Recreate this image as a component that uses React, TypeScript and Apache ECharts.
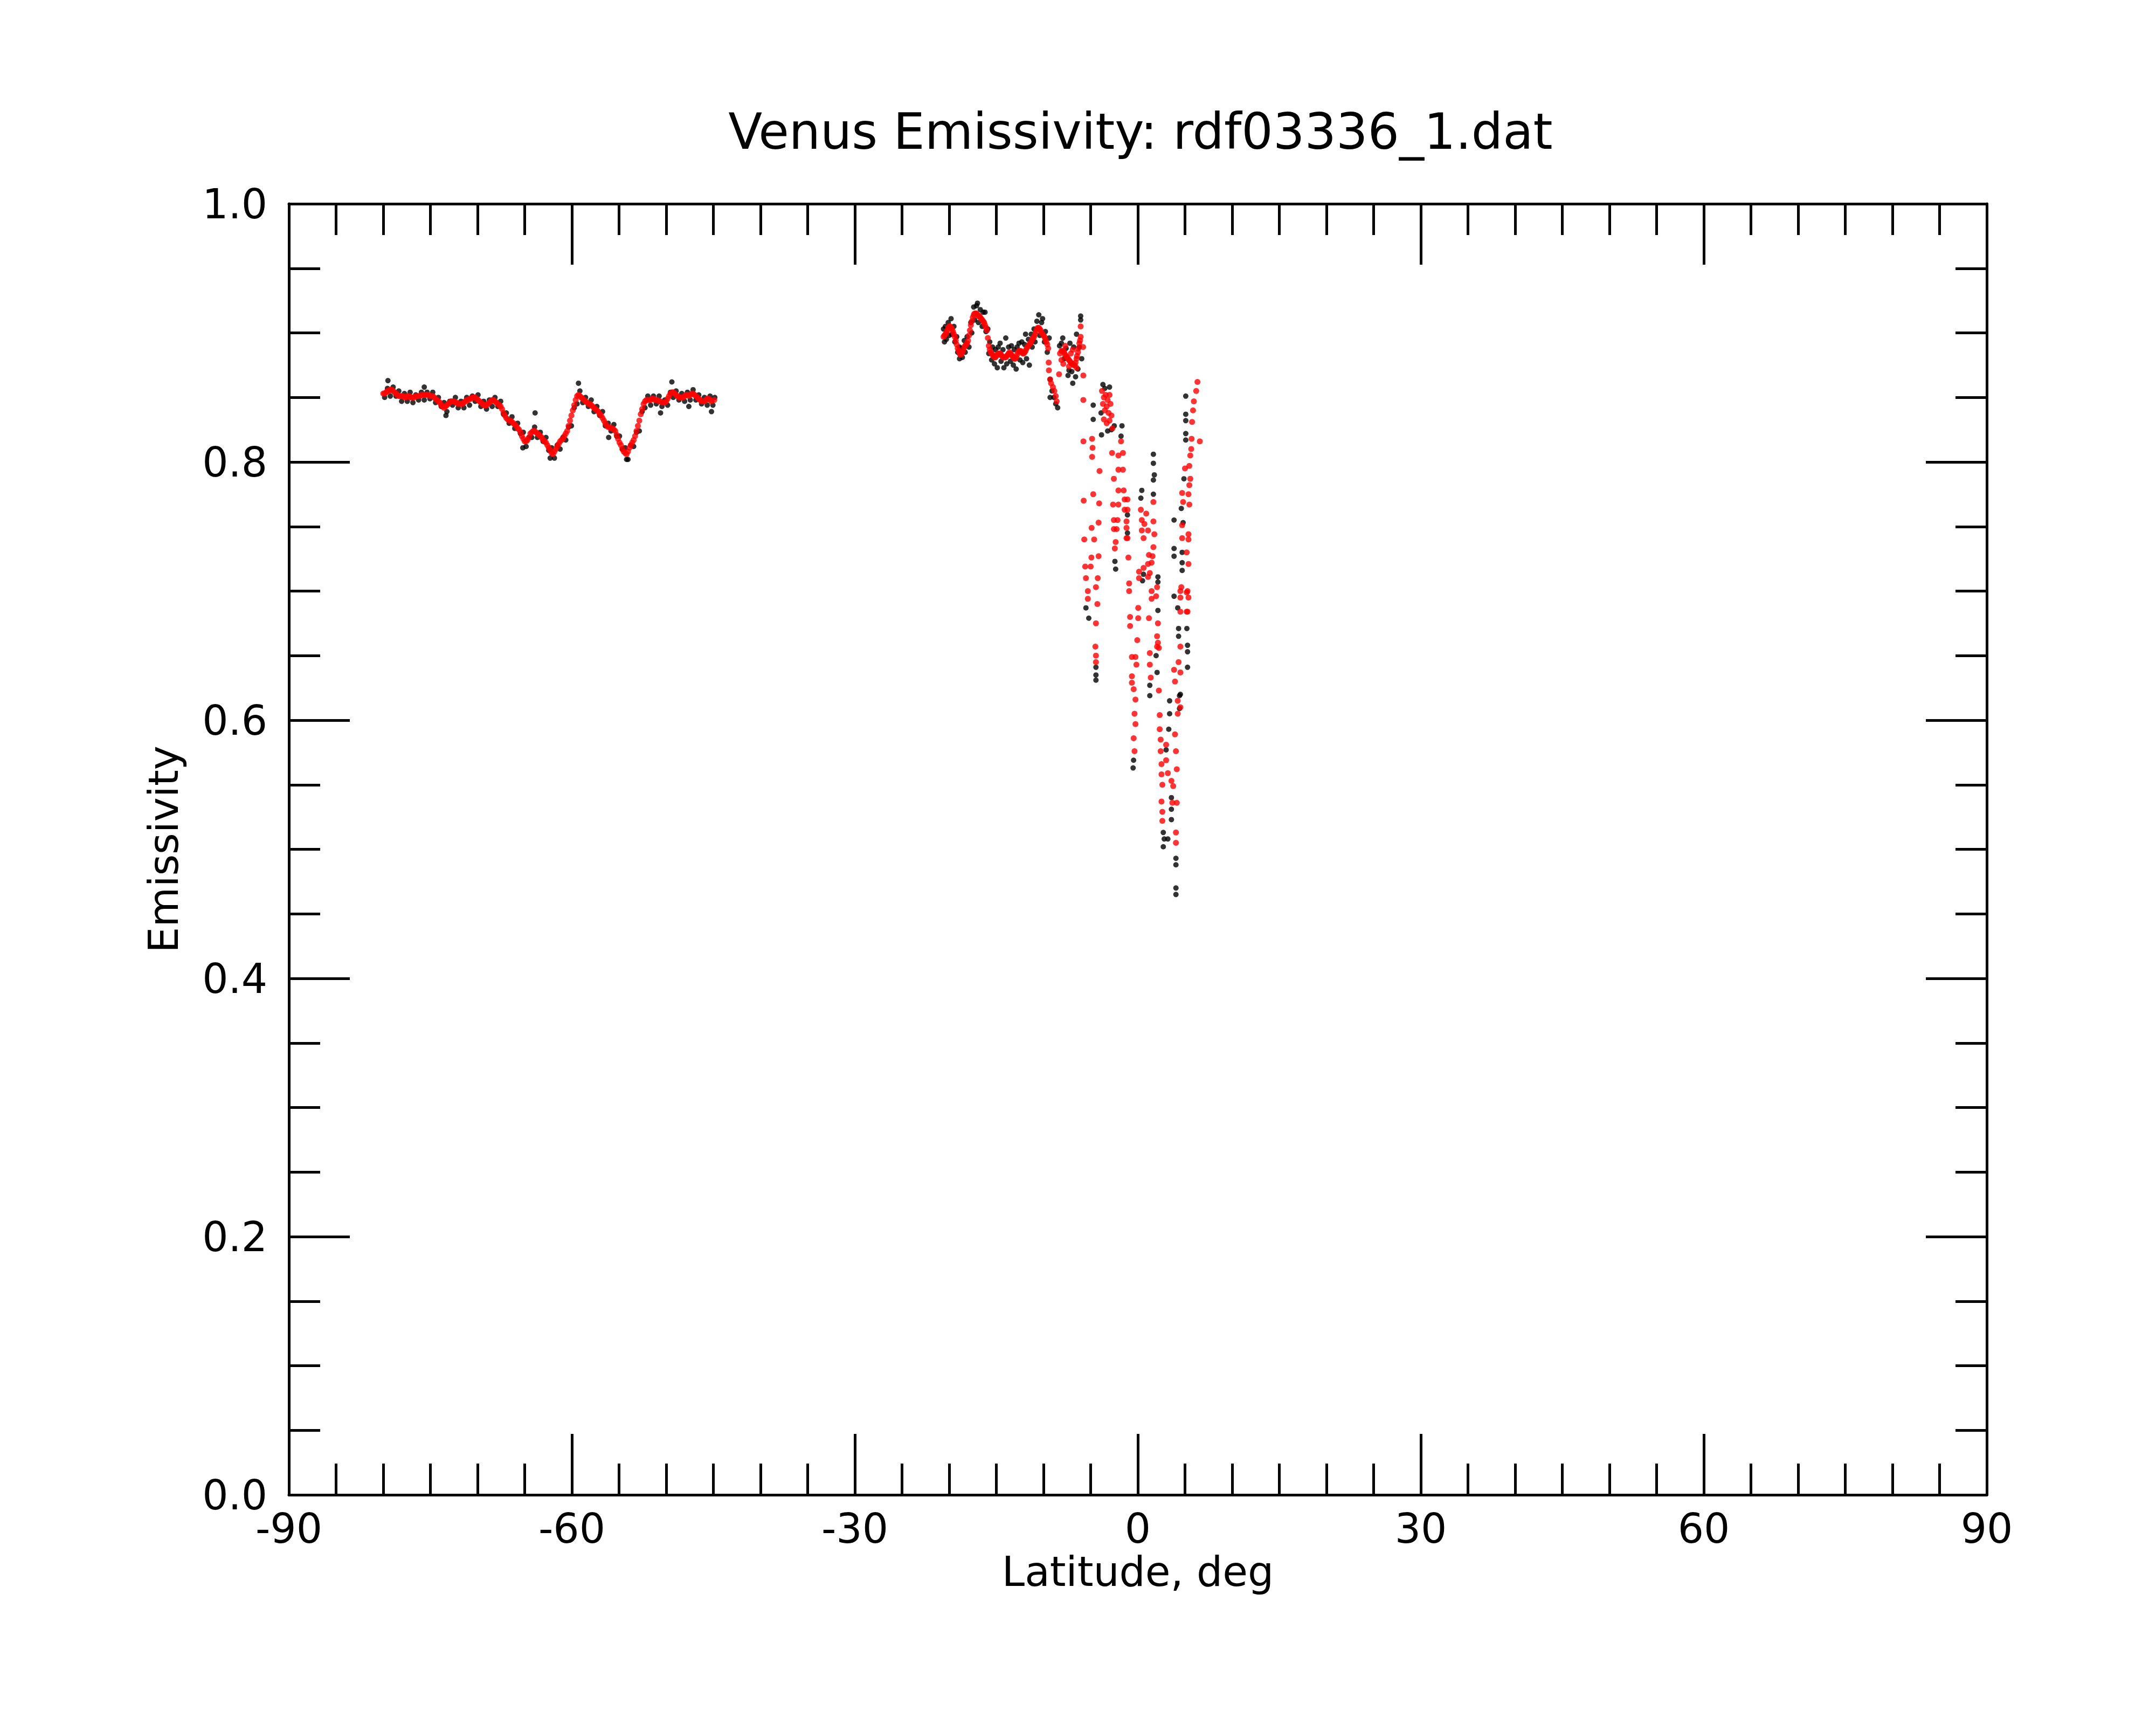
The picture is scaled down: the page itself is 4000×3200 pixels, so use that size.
import React, { useEffect, useRef } from "react";
import * as echarts from "echarts";

const chartTitle = "Venus Emissivity: rdf03336_1.dat";
const xAxisName = "Latitude, deg";
const yAxisName = "Emissivity";
const xRange = [-90, 90];
const yRange = [0, 1];

// Southern band (red = smoothed/corrected, black = raw)
const redSouth: [number, number][] = [
  [-80.0, 0.853], [-79.7, 0.854], [-79.4, 0.855], [-79.1, 0.856], [-78.8, 0.854], [-78.5, 0.852],
  [-78.2, 0.851], [-77.9, 0.851], [-77.6, 0.85], [-77.3, 0.851], [-77.0, 0.85], [-76.7, 0.85],
  [-76.4, 0.851], [-76.1, 0.851], [-75.8, 0.852], [-75.5, 0.852], [-75.2, 0.852], [-74.9, 0.851],
  [-74.6, 0.85], [-74.3, 0.848], [-74.0, 0.846], [-73.7, 0.843], [-73.4, 0.843], [-73.1, 0.845],
  [-72.8, 0.847], [-72.5, 0.847], [-72.2, 0.846], [-71.9, 0.845], [-71.6, 0.845], [-71.3, 0.847],
  [-71.0, 0.848], [-70.7, 0.849], [-70.4, 0.85], [-70.1, 0.849], [-69.8, 0.847], [-69.5, 0.845],
  [-69.2, 0.844], [-68.9, 0.845], [-68.6, 0.847], [-68.3, 0.848], [-68.0, 0.846], [-67.7, 0.844],
  [-67.4, 0.841], [-67.1, 0.836], [-66.8, 0.833], [-66.5, 0.832], [-66.2, 0.83], [-65.9, 0.828],
  [-65.6, 0.825], [-65.3, 0.82], [-65.0, 0.816], [-64.7, 0.817], [-64.4, 0.822], [-64.1, 0.824],
  [-63.8, 0.823], [-63.5, 0.821], [-63.2, 0.819], [-62.9, 0.816], [-62.6, 0.813], [-62.3, 0.809],
  [-62.0, 0.806], [-61.7, 0.81], [-61.4, 0.814], [-61.1, 0.817], [-60.8, 0.82], [-60.5, 0.824],
  [-60.2, 0.832], [-59.9, 0.84], [-59.6, 0.848], [-59.3, 0.852], [-59.0, 0.85], [-58.7, 0.848],
  [-58.4, 0.846], [-58.1, 0.845], [-57.8, 0.843], [-57.5, 0.841], [-57.2, 0.839], [-56.9, 0.836],
  [-56.6, 0.832], [-56.3, 0.828], [-56.0, 0.827], [-55.7, 0.826], [-55.4, 0.824], [-55.1, 0.818],
  [-54.8, 0.813], [-54.5, 0.808], [-54.2, 0.806], [-53.9, 0.811], [-53.6, 0.815], [-53.3, 0.82],
  [-53.0, 0.828], [-52.7, 0.837], [-52.4, 0.845], [-52.1, 0.848], [-51.8, 0.848], [-51.5, 0.849],
  [-51.2, 0.848], [-50.9, 0.848], [-50.6, 0.847], [-50.3, 0.846], [-50.0, 0.847], [-49.7, 0.851],
  [-49.4, 0.854], [-49.1, 0.853], [-48.8, 0.851], [-48.5, 0.85], [-48.2, 0.85], [-47.9, 0.852],
  [-47.6, 0.851], [-47.3, 0.853], [-47.0, 0.852], [-46.7, 0.85], [-46.4, 0.848], [-46.1, 0.847],
  [-45.8, 0.848], [-45.5, 0.849], [-45.2, 0.847], [-44.9, 0.848],
];

// further red samples read between the ones above
const redSouthBetween: [number, number][] = [
  [-79.85, 0.853], [-79.55, 0.855], [-79.25, 0.856], [-78.95, 0.855], [-78.65, 0.853], [-78.35, 0.851],
  [-78.05, 0.851], [-77.75, 0.85], [-77.45, 0.851], [-77.15, 0.85], [-76.85, 0.85], [-76.55, 0.851],
  [-76.25, 0.851], [-75.95, 0.852], [-75.65, 0.852], [-75.35, 0.852], [-75.05, 0.851], [-74.75, 0.851],
  [-74.45, 0.849], [-74.15, 0.847], [-73.85, 0.844], [-73.55, 0.842], [-73.25, 0.844], [-72.95, 0.846],
  [-72.65, 0.847], [-72.35, 0.846], [-72.05, 0.845], [-71.75, 0.845], [-71.45, 0.846], [-71.15, 0.848],
  [-70.85, 0.849], [-70.55, 0.85], [-70.25, 0.85], [-69.95, 0.848], [-69.65, 0.846], [-69.35, 0.844],
  [-69.05, 0.844], [-68.75, 0.846], [-68.45, 0.848], [-68.15, 0.847], [-67.85, 0.845], [-67.55, 0.843],
  [-67.25, 0.838], [-66.95, 0.834], [-66.65, 0.832], [-66.35, 0.831], [-66.05, 0.829], [-65.75, 0.826],
  [-65.45, 0.823], [-65.15, 0.818], [-64.85, 0.816], [-64.55, 0.819], [-64.25, 0.823], [-63.95, 0.824],
  [-63.65, 0.822], [-63.35, 0.82], [-63.05, 0.817], [-62.75, 0.815], [-62.45, 0.811], [-62.15, 0.807],
  [-61.85, 0.808], [-61.55, 0.812], [-61.25, 0.816], [-60.95, 0.818], [-60.65, 0.822], [-60.35, 0.828],
  [-60.05, 0.836], [-59.75, 0.844], [-59.45, 0.851], [-59.15, 0.851], [-58.85, 0.849], [-58.55, 0.847],
  [-58.25, 0.845], [-57.95, 0.844], [-57.65, 0.842], [-57.35, 0.84], [-57.05, 0.837], [-56.75, 0.834],
  [-56.45, 0.83], [-56.15, 0.827], [-55.85, 0.826], [-55.55, 0.825], [-55.25, 0.821], [-54.95, 0.815],
  [-54.65, 0.81], [-54.35, 0.807], [-54.05, 0.808], [-53.75, 0.813], [-53.45, 0.817], [-53.15, 0.824],
  [-52.85, 0.832], [-52.55, 0.841], [-52.25, 0.847], [-51.95, 0.848], [-51.65, 0.848], [-51.35, 0.849],
  [-51.05, 0.848], [-50.75, 0.847], [-50.45, 0.846], [-50.15, 0.846], [-49.85, 0.849], [-49.55, 0.853],
  [-49.25, 0.854], [-48.95, 0.852], [-48.65, 0.85], [-48.35, 0.85], [-48.05, 0.851], [-47.75, 0.852],
  [-47.45, 0.852], [-47.15, 0.853], [-46.85, 0.851], [-46.55, 0.849], [-46.25, 0.847], [-45.95, 0.847],
  [-45.65, 0.849], [-45.35, 0.848],
];

const blackSouth: [number, number][] = [
  [-79.85, 0.85], [-79.55, 0.857], [-79.25, 0.851], [-78.95, 0.858], [-78.65, 0.851], [-78.35, 0.855],
  [-78.05, 0.847], [-77.75, 0.853], [-77.45, 0.847], [-77.15, 0.854], [-76.85, 0.846], [-76.55, 0.852],
  [-76.25, 0.848], [-75.95, 0.854], [-75.65, 0.848], [-75.35, 0.854], [-75.05, 0.849], [-74.75, 0.854],
  [-74.45, 0.846], [-74.15, 0.85], [-73.85, 0.843], [-73.55, 0.846], [-73.25, 0.839], [-72.95, 0.847],
  [-72.65, 0.844], [-72.35, 0.85], [-72.05, 0.842], [-71.75, 0.847], [-71.45, 0.842], [-71.15, 0.85],
  [-70.85, 0.844], [-70.55, 0.851], [-70.25, 0.847], [-69.95, 0.852], [-69.65, 0.843], [-69.35, 0.847],
  [-69.05, 0.841], [-68.75, 0.848], [-68.45, 0.843], [-68.15, 0.85], [-67.85, 0.843], [-67.55, 0.847],
  [-67.25, 0.837], [-66.95, 0.838], [-66.65, 0.83], [-66.35, 0.835], [-66.05, 0.826], [-65.75, 0.83],
  [-65.45, 0.822], [-65.15, 0.823], [-64.85, 0.812], [-64.55, 0.819], [-64.25, 0.819], [-63.95, 0.827],
  [-63.65, 0.819], [-63.35, 0.823], [-63.05, 0.816], [-62.75, 0.819], [-62.45, 0.809], [-62.15, 0.811],
  [-61.85, 0.803], [-61.55, 0.813], [-61.25, 0.81], [-60.95, 0.819], [-60.65, 0.817], [-60.35, 0.827],
  [-60.05, 0.828], [-59.75, 0.842], [-59.45, 0.845], [-59.15, 0.855], [-58.85, 0.846], [-58.55, 0.85],
  [-58.25, 0.843], [-57.95, 0.848], [-57.65, 0.839], [-57.35, 0.843], [-57.05, 0.836], [-56.75, 0.839],
  [-56.45, 0.828], [-56.15, 0.83], [-55.85, 0.824], [-55.55, 0.829], [-55.25, 0.82], [-54.95, 0.82],
  [-54.65, 0.81], [-54.35, 0.811], [-54.05, 0.802], [-53.75, 0.813], [-53.45, 0.812], [-53.15, 0.823],
  [-52.85, 0.824], [-52.55, 0.839], [-52.25, 0.842], [-51.95, 0.851], [-51.65, 0.844], [-51.35, 0.851],
  [-51.05, 0.845], [-50.75, 0.851], [-50.45, 0.843], [-50.15, 0.848], [-49.85, 0.844], [-49.55, 0.854],
  [-49.25, 0.85], [-48.95, 0.855], [-48.65, 0.848], [-48.35, 0.853], [-48.05, 0.847], [-47.75, 0.854],
  [-47.45, 0.848], [-47.15, 0.856], [-46.85, 0.848], [-46.55, 0.852], [-46.25, 0.845], [-45.95, 0.85],
  [-45.65, 0.844], [-45.35, 0.851], [-45.05, 0.844], [-44.85, 0.85],
  // isolated outliers
  [-79.5, 0.863], [-75.65, 0.858], [-73.35, 0.836], [-63.9, 0.838], [-65.2, 0.811], [-62.3, 0.803],
  [-59.3, 0.861], [-56.1, 0.819], [-54.2, 0.802], [-50.6, 0.838], [-49.4, 0.862], [-47.6, 0.843],
  [-45.2, 0.839],
];

// Equatorial band, upper continuous part
const redEquatorTop: [number, number][] = [
  [-20.6, 0.897], [-20.4, 0.899], [-20.2, 0.902], [-20.0, 0.905], [-19.8, 0.904], [-19.6, 0.901],
  [-19.4, 0.897], [-19.2, 0.891], [-19.0, 0.886], [-18.8, 0.883], [-18.6, 0.885], [-18.4, 0.889],
  [-18.2, 0.891], [-18.0, 0.894], [-17.8, 0.902], [-17.6, 0.909], [-17.4, 0.914], [-17.2, 0.915],
  [-17.0, 0.914], [-16.8, 0.913], [-16.6, 0.911], [-16.4, 0.909], [-16.2, 0.906], [-16.0, 0.902],
  [-15.9, 0.896], [-15.8, 0.89], [-15.6, 0.885], [-15.4, 0.883], [-15.2, 0.881], [-15.0, 0.882],
  [-14.8, 0.884], [-14.6, 0.884], [-14.4, 0.882], [-14.2, 0.881], [-14.0, 0.881], [-13.8, 0.883],
  [-13.6, 0.885], [-13.4, 0.883], [-13.2, 0.881], [-13.0, 0.88], [-12.8, 0.883], [-12.6, 0.886],
  [-12.4, 0.886], [-12.2, 0.884], [-12.0, 0.885], [-11.8, 0.888], [-11.6, 0.89], [-11.4, 0.892],
  [-11.2, 0.895], [-11.0, 0.897], [-10.8, 0.901], [-10.6, 0.904], [-10.4, 0.903], [-10.2, 0.9],
  [-10.0, 0.898], [-9.8, 0.895], [-9.6, 0.891], [-9.5, 0.888], [-9.45, 0.877], [-9.43, 0.871],
  [-9.3, 0.864], [-9.2, 0.861], [-9.0, 0.858], [-8.85, 0.855], [-8.7, 0.851], [-8.6, 0.847],
  [-8.35, 0.868], [-8.25, 0.884], [-8.1, 0.886], [-7.9, 0.886], [-7.7, 0.883], [-7.5, 0.881],
  [-7.3, 0.879], [-7.1, 0.877], [-6.9, 0.876], [-6.7, 0.875], [-6.5, 0.88], [-6.35, 0.885],
  [-6.2, 0.892], [-6.06, 0.897], [-6.06, 0.905], [-5.8, 0.889], [-5.78, 0.867], [-5.78, 0.848],
  [-8.1, 0.879], [-7.7, 0.89], [-7.3, 0.874], [-6.9, 0.887], [-6.5, 0.873], [-7.9, 0.876], [-7.1, 0.884],
];

const redEquatorTopBetween: [number, number][] = [
  [-20.5, 0.898], [-20.3, 0.9], [-20.1, 0.904], [-19.9, 0.905], [-19.7, 0.903], [-19.5, 0.899],
  [-19.3, 0.894], [-19.1, 0.888], [-18.9, 0.884], [-18.7, 0.884], [-18.5, 0.887], [-18.3, 0.89],
  [-18.1, 0.892], [-17.9, 0.898], [-17.7, 0.906], [-17.5, 0.912], [-17.3, 0.915], [-17.1, 0.915],
  [-16.9, 0.913], [-16.7, 0.912], [-16.5, 0.91], [-16.3, 0.908], [-16.1, 0.904], [-15.7, 0.887],
  [-15.5, 0.884], [-15.3, 0.882], [-15.1, 0.881], [-14.9, 0.883], [-14.7, 0.884], [-14.5, 0.883],
  [-14.3, 0.881], [-14.1, 0.881], [-13.9, 0.882], [-13.7, 0.884], [-13.5, 0.884], [-13.3, 0.882],
  [-13.1, 0.88], [-12.9, 0.881], [-12.7, 0.885], [-12.5, 0.886], [-12.3, 0.885], [-12.1, 0.884],
  [-11.9, 0.886], [-11.7, 0.889], [-11.5, 0.891], [-11.3, 0.893], [-11.1, 0.896], [-10.9, 0.899],
  [-10.7, 0.903], [-10.5, 0.904], [-10.3, 0.902], [-10.1, 0.899], [-9.9, 0.897], [-9.7, 0.893],
  [-8.0, 0.886], [-7.8, 0.885], [-7.6, 0.882], [-7.4, 0.88], [-7.2, 0.878], [-7.0, 0.876],
  [-6.8, 0.875], [-6.6, 0.877], [-6.45, 0.882], [-6.3, 0.888], [-6.13, 0.894],
];

const blackEquatorTop: [number, number][] = [
  [-20.6, 0.903], [-20.5, 0.893], [-20.4, 0.905], [-20.3, 0.895], [-20.1, 0.908], [-20.0, 0.898],
  [-19.8, 0.911], [-19.7, 0.899], [-19.5, 0.905], [-19.4, 0.893], [-19.2, 0.897], [-19.1, 0.885],
  [-18.9, 0.889], [-18.9, 0.88], [-18.7, 0.888], [-18.6, 0.881], [-18.4, 0.894], [-18.3, 0.885],
  [-18.1, 0.897], [-17.9, 0.889], [-17.7, 0.908], [-17.6, 0.9], [-17.4, 0.92], [-17.3, 0.91],
  [-17.1, 0.921], [-17.0, 0.923], [-16.9, 0.908], [-16.7, 0.918], [-16.5, 0.905], [-16.4, 0.916],
  [-16.2, 0.916], [-16.1, 0.901], [-15.9, 0.903], [-15.8, 0.884], [-15.7, 0.893], [-15.5, 0.879],
  [-15.4, 0.889], [-15.2, 0.876], [-15.1, 0.887], [-14.9, 0.873], [-14.8, 0.889], [-14.6, 0.892],
  [-14.5, 0.878], [-14.3, 0.887], [-14.2, 0.873], [-14.0, 0.896], [-13.9, 0.876], [-13.7, 0.889],
  [-13.5, 0.878], [-13.4, 0.89], [-13.2, 0.875], [-13.1, 0.887], [-12.9, 0.872], [-12.8, 0.889],
  [-12.6, 0.892], [-12.5, 0.879], [-12.3, 0.893], [-12.2, 0.877], [-12.0, 0.891], [-11.9, 0.899],
  [-11.8, 0.88], [-11.6, 0.895], [-11.5, 0.875], [-11.3, 0.899], [-11.2, 0.889], [-11.0, 0.903],
  [-10.9, 0.893], [-10.7, 0.909], [-10.5, 0.914], [-10.4, 0.898], [-10.2, 0.908], [-10.1, 0.911],
  [-9.9, 0.893], [-9.8, 0.901], [-9.6, 0.885], [-9.4, 0.896], [-9.3, 0.864], [-9.3, 0.85],
  [-9.1, 0.855], [-8.9, 0.85], [-8.7, 0.845], [-8.5, 0.842], [-8.3, 0.89], [-8.1, 0.892],
  [-7.96, 0.896], [-7.8, 0.88], [-7.6, 0.888], [-7.4, 0.867], [-7.3, 0.871], [-7.2, 0.892],
  [-7.0, 0.87], [-6.9, 0.861], [-6.8, 0.889], [-6.6, 0.866], [-6.5, 0.899], [-6.35, 0.872],
  [-6.2, 0.889], [-6.06, 0.91], [-6.06, 0.913], [-5.95, 0.88],
];

// Equatorial band, scattered lower part
const redEquatorLow: [number, number][] = [
  [-5.77, 0.816], [-4.85, 0.818], [-4.8, 0.811], [-4.85, 0.804], [-4.06, 0.793], [-5.74, 0.77],
  [-4.73, 0.775], [-4.1, 0.768], [-4.9, 0.749], [-4.16, 0.753], [-5.68, 0.74], [-4.63, 0.74],
  [-4.92, 0.726], [-4.16, 0.727], [-5.58, 0.719], [-5.0, 0.719], [-5.5, 0.71], [-4.25, 0.71],
  [-5.3, 0.7], [-4.44, 0.703], [-5.3, 0.694], [-4.29, 0.69], [-4.44, 0.675], [-4.5, 0.657],
  [-4.44, 0.65], [-4.44, 0.645],
  [-3.8, 0.855], [-3.6, 0.85], [-3.4, 0.852], [-3.2, 0.848], [-3.0, 0.852], [-2.9, 0.845],
  [-3.7, 0.845], [-3.5, 0.84], [-3.3, 0.843], [-3.1, 0.838], [-2.8, 0.836], [-3.6, 0.833],
  [-3.3, 0.83], [-3.0, 0.832], [-2.7, 0.826],
  [-2.73, 0.807], [-2.06, 0.805], [-1.58, 0.807], [-1.78, 0.816], [-2.06, 0.794], [-1.58, 0.794],
  [-2.54, 0.787], [-2.06, 0.778], [-1.5, 0.778], [-1.4, 0.771], [-1.1, 0.771], [-2.63, 0.767],
  [-2.06, 0.767], [-1.4, 0.763], [-1.1, 0.763], [-2.54, 0.755], [-2.15, 0.755], [-1.2, 0.754],
  [-1.2, 0.749], [-2.54, 0.748], [-2.25, 0.748], [-1.1, 0.741], [-1.2, 0.741], [-2.35, 0.738],
  [-2.44, 0.733], [-1.0, 0.726], [-0.92, 0.706], [-0.92, 0.7], [-0.82, 0.68], [-0.82, 0.673],
  [-0.06, 0.662], [-0.25, 0.649], [-0.63, 0.649], [-0.15, 0.643], [-0.63, 0.634], [-0.63, 0.629],
  [-0.44, 0.624], [-0.25, 0.616], [-0.35, 0.605], [-0.25, 0.597], [-0.44, 0.586], [-0.35, 0.576],
  [0.32, 0.763], [0.89, 0.76], [0.42, 0.755], [0.7, 0.752], [1.08, 0.747], [0.42, 0.747],
  [0.61, 0.741], [1.65, 0.769], [1.65, 0.754], [1.75, 0.744], [1.65, 0.734], [1.18, 0.728],
  [1.56, 0.727], [1.46, 0.722], [1.08, 0.721], [0.61, 0.718], [1.27, 0.714], [0.13, 0.715],
  [1.08, 0.711], [0.13, 0.71], [2.04, 0.703], [1.46, 0.7], [1.46, 0.694], [1.94, 0.696],
  [0.04, 0.687], [0.04, 0.679], [1.18, 0.679], [2.13, 0.675], [2.04, 0.665], [2.13, 0.66],
  [2.04, 0.657], [2.23, 0.656], [1.27, 0.652], [1.27, 0.643], [1.37, 0.633], [2.23, 0.623],
  [2.32, 0.604], [2.32, 0.593], [2.42, 0.585], [2.42, 0.576], [2.51, 0.566], [2.51, 0.558],
  [2.6, 0.55], [3.0, 0.581], [3.0, 0.569], [3.18, 0.559], [3.56, 0.553], [3.75, 0.549],
  [3.66, 0.536], [3.94, 0.589], [4.04, 0.576], [4.13, 0.562], [4.13, 0.536], [4.04, 0.513],
  [4.04, 0.505], [2.51, 0.537], [2.6, 0.529], [2.6, 0.522], [4.23, 0.615], [4.51, 0.61],
  [4.51, 0.7], [4.51, 0.695], [4.51, 0.684], [5.18, 0.699], [5.37, 0.695], [5.18, 0.684],
  [4.51, 0.657], [4.32, 0.645], [4.51, 0.637], [3.84, 0.639], [3.94, 0.63], [4.23, 0.605],
  [6.32, 0.862], [6.19, 0.855], [5.94, 0.847], [5.85, 0.84], [5.75, 0.831], [5.7, 0.818],
  [5.66, 0.81], [6.57, 0.816], [5.56, 0.805], [5.46, 0.797], [5.56, 0.787], [5.46, 0.782],
  [5.37, 0.775], [5.0, 0.795], [4.7, 0.776], [4.8, 0.769], [5.46, 0.767], [4.7, 0.751],
  [4.7, 0.741], [5.37, 0.744], [5.37, 0.74], [5.18, 0.73], [5.37, 0.721], [4.61, 0.703],
  [5.27, 0.7], [5.27, 0.684],
];

const blackEquatorLow: [number, number][] = [
  [-4.73, 0.844], [-4.73, 0.833], [-3.7, 0.86], [-3.0, 0.858], [-3.5, 0.857], [-3.9, 0.838],
  [-3.85, 0.821], [-2.8, 0.825], [-2.5, 0.828], [-3.2, 0.824],
  [-5.5, 0.687], [-5.2, 0.679], [-4.44, 0.641], [-4.44, 0.635], [-4.44, 0.631],
  [-1.68, 0.828], [-1.78, 0.82], [-2.43, 0.723], [-2.35, 0.717], [-1.1, 0.759], [-1.1, 0.745],
  [-0.5, 0.563], [-0.45, 0.569],
  [0.42, 0.778], [0.32, 0.772], [1.65, 0.806], [1.65, 0.799], [1.75, 0.79], [1.65, 0.786],
  [1.65, 0.775], [0.6, 0.713], [0.5, 0.708], [2.13, 0.711], [2.13, 0.707], [2.13, 0.685],
  [1.94, 0.65], [2.04, 0.637], [1.27, 0.627], [1.27, 0.619],
  [3.37, 0.615], [3.37, 0.605], [3.28, 0.593], [3.0, 0.577], [3.56, 0.54], [3.56, 0.531],
  [3.56, 0.523], [2.7, 0.513], [2.8, 0.508], [2.7, 0.502], [3.18, 0.508], [4.04, 0.493],
  [4.04, 0.488], [4.04, 0.47], [4.04, 0.465], [4.42, 0.619],
  [3.84, 0.755], [3.84, 0.733], [3.84, 0.727], [3.84, 0.696], [4.23, 0.687], [4.32, 0.671],
  [4.32, 0.665], [5.2, 0.671], [5.27, 0.658], [5.27, 0.653], [5.27, 0.641], [4.51, 0.62],
  [4.42, 0.609], [5.08, 0.851], [5.08, 0.837], [5.08, 0.832], [5.08, 0.822], [5.08, 0.817],
  [4.89, 0.787], [4.61, 0.764], [4.8, 0.753], [4.7, 0.73], [4.7, 0.722], [4.7, 0.716],
];

const FONT = "'DejaVu Sans', sans-serif";
const INK = "#000000";

function axisCommon(show: boolean) {
  return {
    axisLine: { show: true, onZero: false, lineStyle: { color: INK, width: 5 } },
    axisTick: { show: true, inside: true, length: 113, lineStyle: { color: INK, width: 5 } },
    minorTick: { show: true, length: 58, lineStyle: { color: INK, width: 5 } },
    splitLine: { show: false },
    axisLabel: { show, color: INK, fontFamily: FONT, fontSize: 76 },
  };
}

export default function App() {
  const ref = useRef<HTMLDivElement>(null);
  useEffect(() => {
    document.body.style.margin = "0";
    const chart = echarts.init(ref.current as HTMLDivElement, null, { renderer: "svg" });
    const xBase = axisCommon(true);
    const yBase = axisCommon(true);
    chart.setOption({
      animation: false,
      backgroundColor: "#ffffff",
      title: {
        text: chartTitle,
        left: 2111,
        textAlign: "center",
        top: 193,
        textStyle: { color: INK, fontFamily: FONT, fontSize: 92, fontWeight: "normal" },
      },
      grid: { left: 536, right: 314, top: 378, bottom: 427, containLabel: false },
      xAxis: [
        {
          type: "value", min: xRange[0], max: xRange[1], interval: 30, position: "bottom",
          ...xBase,
          minorTick: { ...xBase.minorTick, splitNumber: 6 },
          axisLabel: { ...xBase.axisLabel, margin: 24 },
          name: xAxisName, nameLocation: "middle", nameGap: 88,
          nameTextStyle: { color: INK, fontFamily: FONT, fontSize: 76 },
        },
        {
          type: "value", min: xRange[0], max: xRange[1], interval: 30, position: "top",
          ...axisCommon(false),
          minorTick: { ...xBase.minorTick, splitNumber: 6 },
        },
      ],
      yAxis: [
        {
          type: "value", min: yRange[0], max: yRange[1], interval: 0.2, position: "left",
          ...yBase,
          minorTick: { ...yBase.minorTick, splitNumber: 4 },
          axisLabel: { ...yBase.axisLabel, margin: 40, formatter: (v: number) => v.toFixed(1) },
          name: yAxisName, nameLocation: "middle", nameGap: 195,
          nameTextStyle: { color: INK, fontFamily: FONT, fontSize: 76 },
        },
        {
          type: "value", min: yRange[0], max: yRange[1], interval: 0.2, position: "right",
          ...axisCommon(false),
          minorTick: { ...yBase.minorTick, splitNumber: 4 },
        },
      ],
      series: [
        {
          type: "scatter", xAxisIndex: 0, yAxisIndex: 0, symbol: "circle", symbolSize: 10,
          itemStyle: { color: INK },
          data: [...blackSouth, ...blackEquatorTop, ...blackEquatorLow],
        },
        {
          type: "scatter", xAxisIndex: 0, yAxisIndex: 0, symbol: "circle", symbolSize: 11,
          itemStyle: { color: "#ff0000" },
          data: [...redSouth, ...redSouthBetween, ...redEquatorTop, ...redEquatorTopBetween, ...redEquatorLow],
        },
      ],
    });
    return () => chart.dispose();
  }, []);
  return <div ref={ref} style={{ width: 4000, height: 3200 }} />;
}
